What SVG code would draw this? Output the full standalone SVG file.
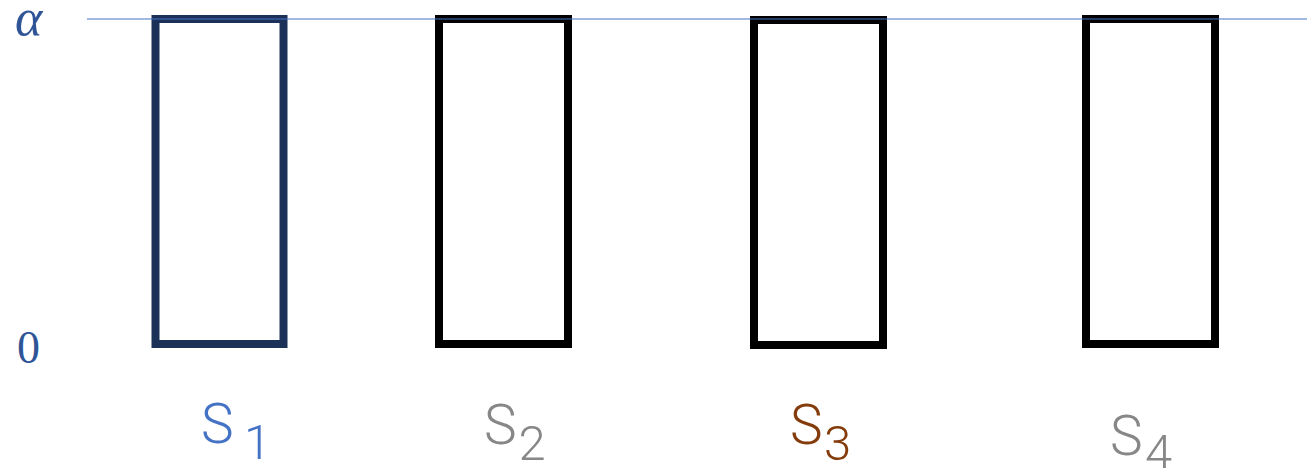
<svg xmlns="http://www.w3.org/2000/svg" width="1307" height="468" viewBox="0 0 1307 468">
  <style>
    .box { fill: none; stroke: #000000; stroke-width: 8; }
    .axis { font-family: "Liberation Serif", serif; fill: #2F5597; }
    .lab { font-family: Roboto, "Liberation Sans", sans-serif; font-weight: 300; font-size: 55px; }
    .sub { font-size: 49px; }
  </style>
  <rect width="1307" height="468" fill="#ffffff"/>
  <g id="s1">
    <rect class="box" x="155.5" y="19" width="128" height="325" style="stroke:#1B3157"/>
    <text class="lab" y="442.5" fill="#4472C4"><tspan x="201">S</tspan><tspan class="sub" x="244" y="459">1</tspan></text>
  </g>
  <g id="s2">
    <rect class="box" x="439" y="19" width="129" height="325"/>
    <text class="lab" y="444" fill="#878787"><tspan x="484">S</tspan><tspan class="sub" x="518.5" y="460">2</tspan></text>
  </g>
  <g id="s3">
    <rect class="box" x="754" y="20" width="129" height="325"/>
    <text class="lab" y="444" fill="#843C0C"><tspan x="790">S</tspan><tspan class="sub" x="824" y="460">3</tspan></text>
  </g>
  <g id="s4">
    <rect class="box" x="1086" y="19" width="129" height="325"/>
    <text class="lab" y="455" fill="#878787"><tspan x="1110">S</tspan><tspan class="sub" x="1145" y="469">4</tspan></text>
  </g>
  <g id="connectors">
    <line x1="87" y1="19" x2="1307" y2="19" stroke="#4472C4" stroke-width="1.2"/>
  </g>
  <g id="axis-labels">
    <text class="axis" x="15" y="35" font-size="52" font-style="italic">α</text>
    <text class="axis" x="17" y="363" font-size="46">0</text>
  </g>
</svg>
